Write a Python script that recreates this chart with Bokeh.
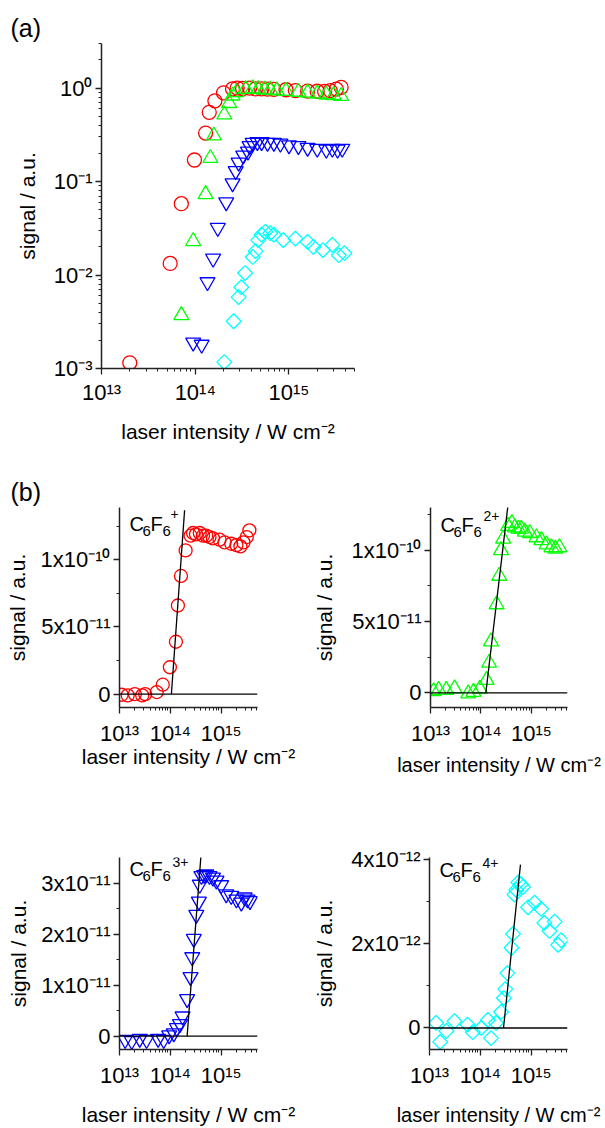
import numpy as np
from bokeh.plotting import figure
from bokeh.models import Range1d, FixedTicker, CustomJSTickFormatter, Span, Label
from bokeh.layouts import column, row
from bokeh.embed import file_html
from bokeh.resources import INLINE

nan = float("nan")
FONT = "Liberation Sans"
RED, GREEN, BLUE, CYAN = "#ff0000", "#00ff00", "#0000ff", "#00ffff"

# ---------------- data ----------------
# C6F6+  (red circles)
int_1 = [1.10e13, 1.45e13, 2.0e13, 2.8e13, 3.2e13, 5.4e13, 7.1e13, 9.8e13, 1.29e14, 1.41e14,
         1.62e14, 2.0e14, 2.5e14, 2.8e14, 3.2e14, 3.8e14, 4.4e14, 5.1e14, 5.9e14, 6.9e14,
         9.3e14, 1.17e15, 1.58e15, 2.0e15, 2.4e15, 2.75e15, 3.2e15, 3.6e15]
sig_1 = [-5e-13, -1e-12, 0.0, -1e-12, 0.0, 1.5e-12, 7e-12, 2.0e-11, 3.9e-11, 6.6e-11,
         8.8e-11, 1.07e-10, 1.18e-10, 1.20e-10, 1.19e-10, 1.20e-10, 1.18e-10, 1.18e-10, 1.17e-10, 1.16e-10,
         1.15e-10, 1.13e-10, 1.12e-10, 1.11e-10, 1.10e-10, 1.13e-10, 1.17e-10, 1.22e-10]
norm_1 = [nan, nan, 1.15e-3, nan, nan, 0.0133, 0.058, 0.17, 0.33, 0.55,
          0.73, 0.89, 0.98, 1.0, 0.99, 1.0, 0.98, 0.98, 0.975, 0.97,
          0.96, 0.94, 0.93, 0.925, 0.92, 0.94, 0.975, 1.02]

# C6F6 2+  (green triangles)
int_2 = [1.15e13, 1.45e13, 2.05e13, 3.0e13, 5.6e13, 7.1e13, 9.5e13, 1.29e14, 1.45e14, 1.58e14,
         2.04e14, 2.3e14, 2.5e14, 2.75e14, 3.45e14, 4.1e14, 4.7e14, 5.5e14, 6.3e14, 7.4e14,
         9.3e14, 1.26e15, 1.58e15, 2.0e15, 2.5e15, 3.0e15, 3.6e15]
sig_2 = [1e-12, 2e-12, 2e-12, 3e-12, -5e-13, 5e-13, 2.8e-12, 9e-12, 2.1e-11, 3.6e-11,
         6.2e-11, 8.2e-11, 1.0e-10, 1.08e-10, 1.17e-10, 1.19e-10, 1.16e-10, 1.15e-10, 1.15e-10, 1.13e-10,
         1.12e-10, 1.09e-10, 1.07e-10, 1.04e-10, 1.02e-10, 1.01e-10, 1.02e-10]
norm_2 = [nan, nan, nan, nan, nan, 3.7e-3, 0.023, 0.073, 0.178, 0.31,
          0.52, 0.69, 0.83, 0.90, 0.975, 0.99, 0.97, 0.96, 0.96, 0.94,
          0.93, 0.91, 0.89, 0.87, 0.85, 0.84, 0.82]

# C6F6 3+  (blue inverted triangles)
int_3 = [1.29e13, 1.74e13, 2.5e13, 3.4e13, 5.75e13, 7.4e13, 9.5e13, 1.17e14, 1.35e14, 1.55e14,
         1.74e14, 2.14e14, 2.5e14, 2.7e14, 2.9e14, 3.25e14, 3.65e14, 3.8e14, 4.1e14, 4.6e14,
         5.1e14, 5.9e14, 6.9e14, 8.1e14, 1.0e15, 1.26e15, 1.58e15, 2.0e15, 2.5e15, 2.9e15,
         3.3e15, 3.7e15]
sig_3 = [-7e-13, -9e-13, -5e-13, -7e-13, -5e-13, -7e-13, 2e-13, 6e-13, 1.6e-12, 2.4e-12,
         3.9e-12, 7.3e-12, 1.16e-11, 1.55e-11, 1.91e-11, 2.38e-11, 2.64e-11, 2.97e-11, 3.14e-11, 3.16e-11,
         3.17e-11, 3.14e-11, 3.11e-11, 3.05e-11, 2.96e-11, 2.78e-11, 2.75e-11, 2.68e-11, 2.62e-11, 2.72e-11,
         2.68e-11, 2.65e-11]
norm_3 = [nan, nan, nan, nan, nan, nan, 1.9e-3, 1.8e-3, 8.4e-3, 0.015,
          0.032, 0.06, 0.096, 0.13, 0.16, 0.19, 0.21, 0.24, 0.26, 0.265,
          0.265, 0.26, 0.26, 0.255, 0.245, 0.24, 0.23, 0.225, 0.22, 0.225,
          0.22, 0.225]

# C6F6 4+  (cyan diamonds)
int_4 = [1.35e13, 1.62e13, 2.15e13, 3.1e13, 5.6e13, 7.1e13, 1.05e14, 1.41e14, 1.62e14, 2.04e14,
         2.57e14, 2.9e14, 3.1e14, 3.4e14, 4.1e14, 4.4e14, 4.7e14, 5.1e14, 5.6e14, 6.3e14,
         6.9e14, 8.7e14, 1.17e15, 1.58e15, 1.82e15, 2.3e15, 2.9e15, 3.4e15, 3.9e15]
sig_4 = [1.2e-13, -3.3e-13, -7e-14, 1.6e-13, 8e-14, -1.0e-13, 0.0, 1.9e-13, -2.4e-13, 1.2e-13,
         3.8e-13, 7.1e-13, 9.2e-13, 1.30e-12, 1.90e-12, 2.23e-12, 3.16e-12, 3.27e-12, 3.45e-12, 3.41e-12,
         3.34e-12, 2.86e-12, 2.97e-12, 2.82e-12, 2.49e-12, 2.30e-12, 2.52e-12, 1.97e-12, 2.08e-12]
norm_4 = [nan, nan, nan, nan, nan, nan, nan, nan, nan, 1.17e-3,
          3.2e-3, 5.8e-3, 7.4e-3, 0.0105, 0.0156, 0.018, 0.0236, 0.027, 0.029, 0.028,
          0.027, 0.0236, 0.0245, 0.0226, 0.020, 0.0185, 0.021, 0.0163, 0.0171]

# linear fits drawn in (b): end points (intensity, signal)
fit_1x, fit_1y = [1.05e14, 1.91e14], [0.0, 1.37e-10]
fit_2x, fit_2y = [1.25e14, 3.47e14], [0.0, 1.33e-10]
fit_3x, fit_3y = [2.14e14, 4.07e14], [0.0, 3.62e-11]
fit_4x, fit_4y = [2.86e14, 6.17e14], [0.0, 3.87e-12]

# ticks and tick labels
x_ticks = [1e13, 1e14, 1e15]
x_tick_labels = ["10\u00b9\u00b3", "10\u00b9\u2074", "10\u00b9\u2075"]
a_y_ticks = [1e-3, 1e-2, 1e-1, 1.0]
a_y_tick_labels = ["10\u207b\u00b3", "10\u207b\u00b2", "10\u207b\u00b9", "10\u2070"]
b1_y_ticks = [0.0, 5e-11, 1e-10]
b1_y_tick_labels = ["0", "5x10\u207b\u00b9\u00b9", "1x10\u207b\u00b9\u2070"]
b3_y_ticks = [0.0, 1e-11, 2e-11, 3e-11]
b3_y_tick_labels = ["0", "1x10\u207b\u00b9\u00b9", "2x10\u207b\u00b9\u00b9", "3x10\u207b\u00b9\u00b9"]
b4_y_ticks = [0.0, 2e-12, 4e-12]
b4_y_tick_labels = ["0", "2x10\u207b\u00b9\u00b2", "4x10\u207b\u00b9\u00b2"]

XLABEL = "laser intensity / W cm\u207b\u00b2"
YLABEL = "signal / a.u."

log_x_minor = [m * 10.0 ** e for e in (12, 13, 14, 15) for m in range(2, 10)]
log_y_minor = [m * 10.0 ** e for e in (-3, -2, -1, 0) for m in range(2, 10)]

FMT = """
for (let i = 0; i < vals.length; i++) {
  if (Math.abs(vals[i] - tick) <= 1e-6 * Math.abs(vals[i])) { return labs[i]; }
}
return "";
"""


def style_axis(ax, label, ticks, labels, minor, lab_standoff, axlab_standoff, label_size="21px"):
    ax.axis_label = label
    ax.ticker = FixedTicker(ticks=ticks, minor_ticks=minor)
    ax.formatter = CustomJSTickFormatter(args=dict(vals=ticks, labs=labels), code=FMT)
    ax.axis_label_text_font = FONT
    ax.axis_label_text_font_size = label_size
    ax.axis_label_text_font_style = "normal"
    ax.axis_label_text_color = "black"
    ax.major_label_text_font = FONT
    ax.major_label_text_font_size = "22px"
    ax.major_label_text_color = "black"
    ax.axis_line_width = 1.5
    ax.axis_line_color = "#222222"
    ax.major_tick_line_color = "#222222"
    ax.minor_tick_line_color = "#222222"
    ax.major_tick_line_width = 1.3
    ax.minor_tick_line_width = 1.0
    ax.major_tick_in = 0
    ax.major_tick_out = 6
    ax.minor_tick_in = 0
    ax.minor_tick_out = 3
    ax.major_label_standoff = lab_standoff
    ax.axis_label_standoff = axlab_standoff


def base_fig(width, height, left, right, top, bottom, x_type, y_type, xr, yr):
    p = figure(width=width, height=height, x_axis_type=x_type, y_axis_type=y_type,
               x_range=xr, y_range=yr, output_backend="svg", toolbar_location=None,
               min_border_left=left, min_border_right=right,
               min_border_top=top, min_border_bottom=bottom)
    p.xgrid.visible = False
    p.ygrid.visible = False
    p.outline_line_color = None
    p.background_fill_color = "white"
    p.border_fill_color = "white"
    return p


def set_title(p, text, offset, standoff):
    p.title.text = text
    p.title.text_font = FONT
    p.title.text_font_size = "25px"
    p.title.text_font_style = "normal"
    p.title.text_color = "black"
    p.title.align = "left"
    p.title.offset = offset
    p.title.standoff = standoff


MK = dict(fill_color=None, line_width=1.3)

# ---------------- panel (a) ----------------
pa = base_fig(605, 470, 101, 251, 43, 102, "log", "log",
              Range1d(0.999e13, 5e15), Range1d(0.999e-3, 3.0))
style_axis(pa.xaxis[0], XLABEL, x_ticks, x_tick_labels, log_x_minor, 5, 12)
style_axis(pa.yaxis[0], YLABEL, a_y_ticks, a_y_tick_labels, log_y_minor, 3, 12)
set_title(pa, "(a)", -91, 4)
pa.scatter(int_1, np.array(norm_1), marker="circle", size=14, line_color=RED, **MK)
pa.scatter(int_2, np.array(norm_2), marker="triangle", size=15, line_color=GREEN, **MK)
pa.scatter(int_3, np.array(norm_3), marker="inverted_triangle", size=15, line_color=BLUE, **MK)
pa.scatter(int_4, np.array(norm_4), marker="square", angle=np.pi / 4, size=10.5, line_color=CYAN, **MK)


# ---------------- panels (b) ----------------
def formula(p, charge, frame_h, top_off, charge_dx, charge_up):
    base = frame_h - top_off
    pieces = [("C", 10, base, 20), ("6", 23, base - 7, 15), ("F", 31, base, 20),
              ("6", 43, base - 7, 15), (charge, 10 + charge_dx, base + charge_up, 14)]
    for txt, sx, sy, fs in pieces:
        p.add_layout(Label(x=sx, y=sy, x_units="screen", y_units="screen", text=txt,
                           text_font=FONT, text_font_size=f"{fs}px", text_color="black",
                           text_baseline="alphabetic", text_align="left"))


def make_b(width, height, left, right, top, frame_h, yr, yt, ytl, yminor,
           xs, ys, marker, size, color, angle, fx, fy, charge, top_off, charge_dx, charge_up,
           x_axlab_standoff, y_axlab_standoff, xlabel_size):
    bottom = height - top - frame_h
    p = base_fig(width, height, left, right, top, bottom, "log", "linear",
                 Range1d(0.999e13, 5.2e15), yr)
    style_axis(p.xaxis[0], XLABEL, x_ticks, x_tick_labels, log_x_minor, 7, x_axlab_standoff, xlabel_size)
    style_axis(p.yaxis[0], YLABEL, yt, ytl, yminor, 3, y_axlab_standoff)
    p.add_layout(Span(location=0.0, dimension="width", line_color="black", line_width=1.3))
    p.scatter(xs, ys, marker=marker, size=size, angle=angle, line_color=color, **MK)
    p.line(fx, fy, line_color="black", line_width=1.3)
    formula(p, charge, frame_h, top_off, charge_dx, charge_up)
    return p


pb1 = make_b(310, 320, 119, 53, 37, 202, Range1d(-1.0e-11, 1.39e-10),
             b1_y_ticks, b1_y_tick_labels, [2.5e-11, 7.5e-11, 1.25e-10],
             int_1, sig_1, "circle", 13, RED, 0.0, fit_1x, fit_1y, "+", 18, 41, 10, -4, 8, "21px")
set_title(pb1, "(b)", -109, 3)
pb2 = make_b(295, 320, 119, 38, 33, 204, Range1d(-1.03e-11, 1.30e-10),
             b1_y_ticks, b1_y_tick_labels, [2.5e-11, 7.5e-11, 1.25e-10],
             int_2, sig_2, "triangle", 15, GREEN, 0.0, fit_2x, fit_2y, "2+", 21, 43, 9, 5, 12, "20px")
pb3 = make_b(310, 338, 119, 53, 67, 205, Range1d(-2.6e-12, 3.5e-11),
             b3_y_ticks, b3_y_tick_labels, [5e-12, 1.5e-11, 2.5e-11],
             int_3, sig_3, "inverted_triangle", 15, BLUE, 0.0, fit_3x, fit_3y, "3+", 24, 43, 7, 12, 8, "21px")
pb4 = make_b(295, 338, 119, 38, 63, 205, Range1d(-5.1e-13, 4.04e-12),
             b4_y_ticks, b4_y_tick_labels, [1e-12, 3e-12],
             int_4, sig_4, "square", 10.5, CYAN, np.pi / 4, fit_4x, fit_4y, "4+", 25, 43, 7, 13, 12, "20px")

layout = column(pa, row(pb1, pb2), row(pb3, pb4))
open("out.html", "w").write(file_html(layout, INLINE))
